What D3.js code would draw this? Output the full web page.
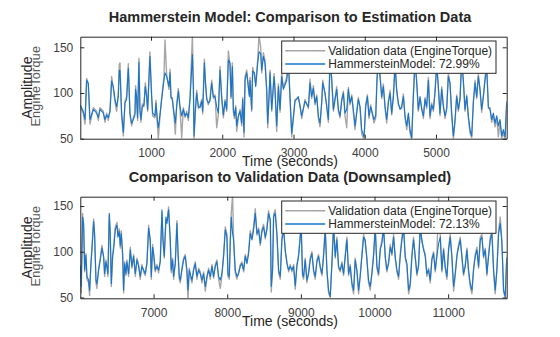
<!DOCTYPE html>
<html>
<head>
<meta charset="utf-8">
<script src="https://cdn.jsdelivr.net/npm/d3@7"></script>
<style>
    body { margin: 0; background: #ffffff; }
    svg { display: block; font-family: "Liberation Sans", Arial, Helvetica, sans-serif; }
</style>
</head>
<body>
<script>
// Estimation segment (seconds) with measured torque and Hammerstein model output
var estTime = [
    8, 50, 74, 97, 120, 144, 191, 237, 261, 284,
    331, 354, 378, 401, 425, 448, 471, 495, 518, 541,
    555, 565, 588, 612, 635, 658, 682, 705, 728, 752,
    775, 784, 798, 812, 831, 845, 859, 878, 901, 920,
    939, 953, 985, 1009, 1023, 1056, 1070, 1089, 1103, 1126,
    1150, 1182, 1197, 1220, 1253, 1267, 1281, 1299, 1323, 1342,
    1360, 1384, 1407, 1431, 1454, 1478, 1501, 1524, 1548, 1581,
    1595, 1604, 1623, 1641, 1665, 1688, 1712, 1726, 1749, 1763,
    1782, 1805, 1828, 1852, 1875, 1899, 1922, 1945, 1969, 1992,
    2016, 2039, 2062, 2086, 2109, 2123, 2142, 2156, 2170, 2189,
    2203, 2226, 2250, 2273, 2287, 2306, 2320, 2343, 2367, 2381,
    2390, 2413, 2427, 2451, 2470, 2498, 2516, 2540, 2554, 2577,
    2600, 2624, 2638, 2657, 2671, 2694, 2708, 2727, 2741, 2764,
    2788, 2811, 2834, 2858, 2905, 2928, 2951, 2975, 3021, 3068,
    3092, 3115, 3162, 3209, 3232, 3255, 3279, 3302, 3326, 3349,
    3372, 3396, 3410, 3443, 3466, 3489, 3513, 3536, 3560, 3606,
    3630, 3653, 3676, 3700, 3723, 3747, 3770, 3793, 3817, 3840,
    3864, 3887, 3910, 3934, 3957, 3990, 4013, 4037, 4060, 4083,
    4107, 4130, 4154, 4172, 4191, 4214, 4238, 4261, 4285, 4308,
    4331, 4355, 4378, 4402, 4425, 4448, 4472, 4495, 4518, 4542,
    4565, 4589, 4612, 4635, 4659, 4682, 4706, 4729, 4752, 4776,
    4799, 4823, 4846, 4869, 4893, 4916, 4939, 4963, 4986, 5010,
    5033, 5056, 5080, 5103, 5127, 5150, 5173, 5197, 5220, 5244,
    5267, 5290, 5314, 5337, 5360, 5384, 5407, 5431, 5454, 5477,
    5501, 5524, 5548, 5571, 5594, 5618, 5641, 5665, 5688, 5711,
    5735, 5758, 5781, 5805, 5828, 5852, 5875, 5898, 5922, 5945,
    5969, 5992
];
var estMeasured = [
    85, 78, 66, 116, 109, 66, 84, 80, 70, 84,
    80, 68, 78, 70, 82, 118, 105, 90, 80, 99,
    131, 133, 74, 53, 91, 96, 132, 76, 64, 73,
    78, 108, 94, 70, 138, 80, 68, 88, 85, 111,
    98, 80, 145, 98, 75, 73, 92, 66, 50, 74,
    95, 118, 158, 120, 104, 126, 94, 95, 75, 55,
    87, 105, 83, 51, 84, 73, 80, 70, 96, 163,
    110, 50, 80, 103, 83, 86, 93, 77, 137, 112,
    95, 87, 94, 114, 94, 98, 62, 76, 129, 94,
    73, 93, 80, 146, 131, 94, 133, 80, 72, 86,
    58, 73, 82, 64, 95, 52, 118, 125, 105, 98,
    117, 80, 128, 120, 110, 137, 163, 150, 122, 144,
    136, 102, 62, 98, 125, 80, 98, 121, 102, 58,
    110, 79, 122, 106, 117, 138, 94, 52, 93, 94,
    87, 72, 93, 83, 115, 94, 108, 87, 98, 72,
    63, 91, 114, 98, 87, 68, 140, 113, 80, 107,
    80, 73, 93, 102, 75, 62, 106, 87, 98, 79,
    60, 80, 95, 83, 55, 49, 87, 98, 72, 87,
    76, 67, 73, 118, 140, 121, 94, 110, 83, 67,
    91, 103, 76, 98, 134, 102, 87, 84, 83, 99,
    73, 60, 76, 56, 49, 98, 139, 113, 80, 94,
    84, 72, 95, 83, 117, 72, 89, 80, 103, 134,
    105, 75, 107, 87, 72, 84, 122, 109, 75, 50,
    68, 98, 80, 95, 139, 111, 80, 98, 72, 56,
    51, 91, 114, 94, 121, 102, 79, 98, 117, 131,
    83, 84, 68, 75, 63, 73, 52, 69, 50, 57,
    49, 88
];
var estModel = [
    87, 80, 71, 114, 111, 71, 82, 78, 73, 82,
    78, 71, 76, 73, 80, 113, 107, 93, 85, 96,
    125, 124, 78, 57, 89, 93, 127, 78, 67, 71,
    76, 104, 96, 73, 134, 82, 71, 85, 87, 107,
    96, 82, 140, 96, 78, 75, 89, 71, 62, 76,
    93, 114, 122, 118, 107, 122, 96, 93, 78, 67,
    85, 102, 85, 75, 82, 75, 78, 73, 93, 142,
    104, 53, 82, 100, 85, 84, 91, 80, 133, 114,
    93, 89, 91, 111, 96, 96, 85, 78, 125, 96,
    76, 91, 82, 136, 133, 96, 129, 82, 75, 84,
    64, 75, 80, 67, 93, 57, 114, 122, 107, 96,
    114, 82, 124, 122, 107, 133, 145, 143, 125, 140,
    133, 104, 67, 96, 122, 82, 96, 118, 104, 64,
    107, 82, 118, 104, 114, 133, 96, 56, 91, 96,
    85, 75, 91, 85, 111, 96, 105, 89, 96, 75,
    67, 89, 111, 100, 85, 71, 135, 116, 82, 104,
    82, 75, 91, 100, 78, 82, 104, 89, 96, 82,
    64, 78, 93, 85, 60, 52, 85, 96, 75, 85,
    78, 71, 75, 114, 135, 118, 96, 107, 85, 71,
    89, 100, 78, 96, 130, 104, 89, 82, 85, 96,
    75, 64, 78, 60, 51, 96, 135, 111, 82, 96,
    82, 75, 93, 85, 114, 75, 87, 82, 100, 130,
    107, 78, 104, 85, 75, 82, 118, 111, 78, 53,
    71, 96, 82, 93, 135, 114, 82, 96, 75, 60,
    53, 89, 111, 96, 118, 104, 82, 96, 114, 128,
    85, 82, 71, 78, 67, 75, 64, 71, 53, 60,
    52, 91
];

// Validation segment (downsampled)
var valTime = [
    6005, 6018, 6036, 6050, 6064, 6082, 6095, 6118, 6131, 6150,
    6163, 6186, 6199, 6218, 6231, 6254, 6276, 6299, 6322, 6335,
    6353, 6367, 6380, 6399, 6412, 6426, 6444, 6457, 6480, 6503,
    6516, 6534, 6548, 6561, 6580, 6593, 6607, 6625, 6638, 6661,
    6684, 6706, 6729, 6752, 6774, 6797, 6819, 6842, 6865, 6887,
    6910, 6933, 6955, 6969, 6987, 7001, 7023, 7046, 7068, 7091,
    7114, 7127, 7145, 7168, 7182, 7204, 7227, 7240, 7258, 7272,
    7295, 7317, 7331, 7349, 7363, 7385, 7408, 7430, 7453, 7467,
    7485, 7498, 7521, 7544, 7566, 7589, 7612, 7634, 7657, 7679,
    7702, 7725, 7747, 7770, 7793, 7815, 7838, 7860, 7883, 7906,
    7928, 7951, 7974, 7996, 8010, 8028, 8041, 8055, 8073, 8087,
    8109, 8132, 8155, 8177, 8200, 8223, 8245, 8268, 8290, 8313,
    8336, 8358, 8381, 8404, 8426, 8449, 8471, 8494, 8517, 8539,
    8562, 8585, 8598, 8616, 8630, 8652, 8675, 8698, 8720, 8743,
    8766, 8788, 8811, 8834, 8856, 8878, 8901, 8924, 8946, 8969,
    8992, 9005, 9023, 9037, 9059, 9082, 9105, 9127, 9150, 9173,
    9195, 9218, 9240, 9263, 9286, 9308, 9331, 9354, 9376, 9399,
    9422, 9444, 9467, 9489, 9512, 9535, 9557, 9580, 9603, 9625,
    9648, 9670, 9693, 9716, 9738, 9761, 9784, 9806, 9829, 9852,
    9874, 9897, 9919, 9942, 9965, 9987, 10010, 10033, 10055, 10078,
    10100, 10123, 10146, 10168, 10191, 10214, 10236, 10259, 10281, 10304,
    10327, 10349, 10372, 10395, 10417, 10440, 10463, 10485, 10508, 10530,
    10553, 10576, 10598, 10621, 10644, 10666, 10689, 10711, 10734, 10757,
    10779, 10802, 10825, 10847, 10870, 10893, 10915, 10938, 10960, 10983,
    11006, 11028, 11051, 11074, 11096, 11119, 11142, 11164, 11187, 11209,
    11232, 11255, 11277, 11300, 11323, 11345, 11368, 11390, 11413, 11436,
    11458, 11481, 11504, 11526, 11549, 11572, 11594, 11617, 11639, 11662,
    11685, 11707, 11730, 11753, 11775, 11795
];
var valMeasured = [
    86, 55, 142, 128, 78, 98, 70, 66, 52, 89,
    104, 136, 117, 66, 60, 82, 93, 107, 93, 73,
    91, 82, 73, 140, 117, 62, 97, 105, 127, 132,
    118, 125, 104, 123, 95, 55, 89, 74, 91, 73,
    105, 82, 97, 73, 93, 86, 70, 86, 78, 74,
    89, 129, 110, 70, 108, 96, 78, 86, 77, 91,
    143, 116, 93, 135, 134, 149, 110, 77, 93, 70,
    89, 134, 99, 70, 66, 82, 93, 97, 77, 47,
    82, 74, 66, 82, 89, 70, 82, 78, 66, 78,
    57, 71, 82, 70, 86, 71, 86, 91, 70, 60,
    74, 97, 127, 119, 73, 70, 112, 143, 162, 110,
    77, 70, 78, 86, 89, 78, 97, 89, 100, 123,
    115, 127, 147, 118, 126, 107, 124, 130, 114, 127,
    145, 132, 56, 82, 141, 146, 117, 77, 70, 116,
    127, 100, 89, 78, 86, 78, 86, 59, 86, 97,
    119, 128, 73, 70, 93, 66, 78, 93, 100, 78,
    70, 91, 97, 82, 74, 97, 127, 78, 55, 50,
    89, 131, 93, 116, 82, 78, 89, 74, 97, 116,
    74, 86, 63, 54, 93, 78, 54, 75, 97, 119,
    110, 93, 66, 58, 78, 97, 129, 82, 74, 104,
    112, 128, 93, 78, 89, 108, 96, 119, 93, 78,
    70, 97, 116, 128, 93, 85, 54, 62, 97, 116,
    93, 74, 86, 128, 110, 104, 97, 73, 82, 66,
    93, 100, 78, 97, 160, 118, 78, 104, 82, 70,
    104, 119, 93, 57, 74, 97, 108, 116, 93, 74,
    86, 104, 78, 62, 54, 82, 97, 105, 82, 116,
    119, 93, 104, 74, 97, 116, 123, 78, 54, 82,
    123, 138, 112, 56, 50, 91
];
var valModel = [
    84, 62, 138, 131, 80, 96, 73, 69, 58, 87,
    102, 133, 120, 69, 65, 80, 91, 104, 95, 76,
    89, 84, 76, 142, 120, 65, 95, 102, 124, 129,
    116, 122, 107, 120, 98, 58, 87, 76, 89, 76,
    102, 84, 95, 76, 91, 84, 73, 84, 80, 76,
    87, 126, 113, 73, 105, 98, 80, 84, 80, 89,
    146, 113, 95, 138, 131, 146, 113, 80, 91, 73,
    87, 131, 102, 73, 69, 80, 91, 95, 80, 58,
    80, 76, 69, 80, 87, 73, 80, 76, 69, 76,
    62, 73, 80, 73, 84, 73, 84, 89, 73, 69,
    76, 95, 124, 116, 76, 73, 109, 138, 120, 113,
    80, 73, 76, 84, 87, 80, 95, 87, 98, 120,
    113, 124, 142, 120, 124, 109, 122, 127, 116, 124,
    142, 135, 62, 80, 138, 142, 120, 80, 73, 113,
    124, 102, 87, 80, 84, 80, 84, 63, 84, 95,
    116, 125, 76, 73, 91, 69, 76, 91, 98, 80,
    73, 89, 95, 84, 76, 95, 124, 80, 58, 51,
    87, 128, 95, 113, 84, 80, 87, 76, 95, 113,
    76, 84, 66, 58, 91, 80, 58, 73, 95, 116,
    113, 91, 69, 62, 76, 95, 125, 84, 76, 102,
    109, 125, 95, 80, 87, 105, 98, 116, 95, 80,
    73, 95, 113, 125, 95, 87, 58, 65, 95, 113,
    95, 76, 84, 125, 113, 102, 95, 76, 80, 69,
    91, 98, 80, 95, 109, 116, 80, 102, 84, 73,
    102, 116, 95, 62, 76, 95, 105, 113, 95, 76,
    84, 102, 80, 65, 58, 80, 95, 102, 84, 113,
    116, 95, 102, 76, 95, 113, 120, 80, 58, 80,
    120, 131, 109, 58, 51, 94
];

var estTicks = [1000, 2000, 3000, 4000, 5000];
var valTicks = [7000, 8000, 9000, 10000, 11000];
var ampTicks = [50, 100, 150];
var estFit = "72.99";
var valFit = "72.13";

function init() {
    var w = 560;
    var h = 337;
    var left = 80.3;
    var right = 506.7;
    var axisColor = "#262626";
    var measuredColor = "#a6a6a6";
    var modelColor = "#1874c8";

    var svg = d3.select("body")
        .append("svg")
        .attr("width", w)
        .attr("height", h);

    // one subplot: clipped traces, boxed axes with inward ticks, labels and legend
    function drawPanel(p) {
        var x = d3.scaleLinear().domain(p.xDomain).range([left, right]);
        var y = d3.scaleLinear().domain(p.yDomain).range([p.bottom, p.top]);
        var g = svg.append("g");

        g.append("clipPath")
            .attr("id", "clip" + p.id)
            .append("rect")
            .attr("x", left)
            .attr("y", p.top)
            .attr("width", right - left)
            .attr("height", p.bottom - p.top);

        var line = d3.line()
            .x(function (d) { return x(d[0]); })
            .y(function (d) { return y(d[1]); });

        var traces = g.append("g").attr("clip-path", "url(#clip" + p.id + ")");
        traces.append("path")
            .datum(d3.zip(p.time, p.measured))
            .attr("fill", "none")
            .attr("stroke", measuredColor)
            .attr("stroke-width", 1.4)
            .attr("stroke-linejoin", "round")
            .attr("d", line);
        traces.append("path")
            .datum(d3.zip(p.time, p.model))
            .attr("fill", "none")
            .attr("stroke", modelColor)
            .attr("stroke-width", 1.1)
            .attr("stroke-linejoin", "round")
            .attr("d", line);

        // box with ticks pointing into the plot
        var fmt = d3.format("d");
        g.append("g")
            .attr("transform", "translate(0," + p.bottom + ")")
            .call(d3.axisBottom(x).tickValues(p.xTicks).tickFormat(fmt)
                .tickSizeInner(-4).tickSizeOuter(0).tickPadding(9.7));
        g.append("g")
            .attr("transform", "translate(0," + p.top + ")")
            .call(d3.axisTop(x).tickValues(p.xTicks).tickSizeInner(-4).tickSizeOuter(0).tickFormat(""));
        g.append("g")
            .attr("transform", "translate(" + left + ",0)")
            .call(d3.axisLeft(y).tickValues(ampTicks).tickFormat(fmt)
                .tickSizeInner(-4).tickSizeOuter(0).tickPadding(7));
        g.append("g")
            .attr("transform", "translate(" + right + ",0)")
            .call(d3.axisRight(y).tickValues(ampTicks).tickSizeInner(-4).tickSizeOuter(0).tickFormat(""));

        g.selectAll(".domain, .tick line").attr("stroke", axisColor).attr("stroke-width", 1);
        g.selectAll(".tick text")
            .attr("fill", "#404040")
            .attr("font-size", "12px")
            .attr("font-family", null);

        // titles and axis labels
        g.append("text")
            .attr("x", 290)
            .attr("y", p.top - 14.7)
            .attr("text-anchor", "middle")
            .attr("font-size", "14.5px")
            .attr("font-weight", "bold")
            .attr("fill", axisColor)
            .text(p.title);

        g.append("text")
            .attr("x", 290)
            .attr("y", p.bottom + 27.5)
            .attr("text-anchor", "middle")
            .attr("font-size", "14px")
            .attr("fill", axisColor)
            .text("Time (seconds)");

        var midY = (p.top + p.bottom) / 2;
        g.append("text")
            .attr("transform", "translate(32," + midY + ") rotate(-90)")
            .attr("text-anchor", "middle")
            .attr("font-size", "14px")
            .attr("fill", axisColor)
            .text("Amplitude");
        g.append("text")
            .attr("transform", "translate(40," + (midY - 1.5) + ") rotate(-90)")
            .attr("text-anchor", "middle")
            .attr("font-size", "12.5px")
            .attr("letter-spacing", "0.3px")
            .attr("fill", "#595959")
            .text("EngineTorque");

        // legend box in the upper right corner
        var lg = g.append("g").attr("transform", "translate(281.7," + (p.top + 4.3) + ")");
        lg.append("rect")
            .attr("x", 0)
            .attr("y", 0)
            .attr("width", 214.3)
            .attr("height", 32.3)
            .attr("fill", "#ffffff")
            .attr("stroke", axisColor)
            .attr("stroke-width", 1);

        var entries = [
            { label: "Validation data (EngineTorque)", color: measuredColor },
            { label: "HammersteinModel: " + p.fit + "%", color: modelColor }
        ];
        var rows = lg.selectAll("g.entry")
            .data(entries)
            .enter()
            .append("g")
            .attr("class", "entry")
            .attr("transform", function (d, i) { return "translate(0," + (9.7 + i * 13.3) + ")"; });
        rows.append("line")
            .attr("x1", 3.5)
            .attr("x2", 43.5)
            .attr("y1", 0)
            .attr("y2", 0)
            .attr("stroke", function (d) { return d.color; })
            .attr("stroke-width", 1.5);
        rows.append("text")
            .attr("x", 46.5)
            .attr("y", 4.3)
            .attr("font-size", "12px")
            .attr("fill", axisColor)
            .text(function (d) { return d.label; });
    }

    drawPanel({
        id: "est",
        top: 36.7,
        bottom: 138.7,
        xDomain: [8, 5992],
        yDomain: [50, 161.6],
        xTicks: estTicks,
        time: estTime,
        measured: estMeasured,
        model: estModel,
        fit: estFit,
        title: "Hammerstein Model: Comparison to Estimation Data"
    });

    drawPanel({
        id: "val",
        top: 196.7,
        bottom: 298.3,
        xDomain: [6005, 11795],
        yDomain: [49.1, 160.2],
        xTicks: valTicks,
        time: valTime,
        measured: valMeasured,
        model: valModel,
        fit: valFit,
        title: "Comparison to Validation Data (Downsampled)"
    });
}
window.onload = init;
</script>
</body>
</html>
